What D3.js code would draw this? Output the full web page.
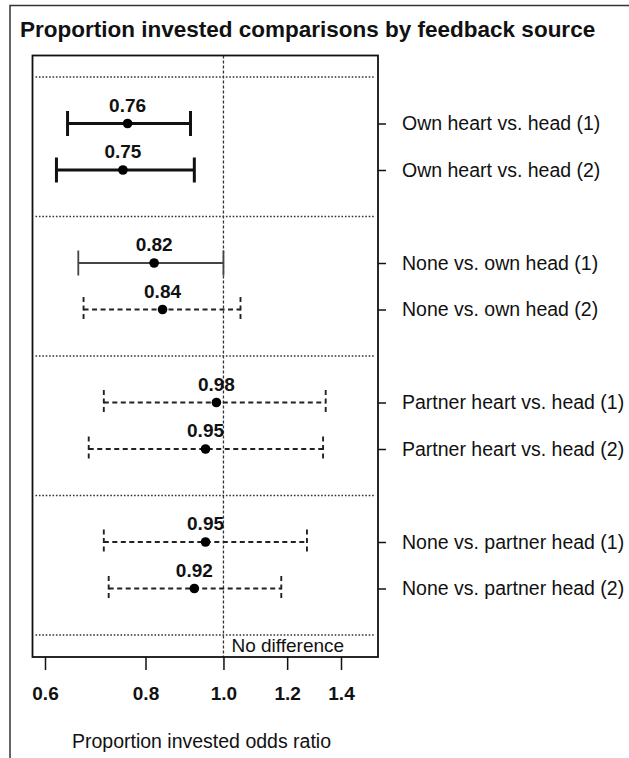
<!DOCTYPE html>
<html lang="en">
<head>
<meta charset="UTF-8">
<title>Proportion invested comparisons by feedback source</title>
<script src="https://cdn.jsdelivr.net/npm/d3@7"></script>
<style>
  body { margin: 0; background: #fff; }
  svg text { font-family: "Liberation Sans", Arial, sans-serif; fill: #111; }
</style>
</head>
<body>
<script>
// comparisons, top to bottom
const labels = [
  "Own heart vs. head (1)", "Own heart vs. head (2)",
  "None vs. own head (1)", "None vs. own head (2)",
  "Partner heart vs. head (1)", "Partner heart vs. head (2)",
  "None vs. partner head (1)", "None vs. partner head (2)"
];
const estimates = [0.76, 0.75, 0.82, 0.84, 0.98, 0.95, 0.95, 0.92];
const lower     = [0.64, 0.62, 0.66, 0.67, 0.71, 0.68, 0.71, 0.72];
const upper     = [0.91, 0.92, 1.00, 1.05, 1.34, 1.33, 1.27, 1.18];
// significance class of each interval
const signif    = ["strong", "strong", "weak", "none", "none", "none", "none", "none"];
const rowPos    = [1, 2, 4, 5, 7, 8, 10, 11];
const groupBreaks = [0, 3, 6, 9, 12];
const xTicks    = [0.6, 0.8, 1.0, 1.2, 1.4];

const width = 629, height = 758;
const box = { left: 32.5, right: 378, top: 55.5, bottom: 657 };

const svg = d3.select("body").append("svg")
    .attr("width", width)
    .attr("height", height);

const x = d3.scaleLog().domain([0.6, 1.4]).range([45, 341]);
const y = d3.scaleLinear().domain([0, 12]).range([77, 635]);

// outer frame
svg.append("path")
    .attr("d", `M10,${height} V5.5 H${width}`)
    .attr("fill", "none")
    .attr("stroke", "#333")
    .attr("stroke-width", 1.5);

svg.append("text")
    .attr("x", 20)
    .attr("y", 37)
    .attr("font-size", "22.5px")
    .attr("font-weight", "bold")
    .text("Proportion invested comparisons by feedback source");

// group separators
svg.selectAll(".sep")
    .data(groupBreaks)
    .enter().append("line")
    .attr("class", "sep")
    .attr("x1", box.left + 3)
    .attr("x2", box.right - 3)
    .attr("y1", d => y(d))
    .attr("y2", d => y(d))
    .attr("stroke", "#333")
    .attr("stroke-width", 1.6)
    .attr("stroke-dasharray", "1.6,1.8");

// no difference line
svg.append("line")
    .attr("x1", x(1)).attr("x2", x(1))
    .attr("y1", box.top).attr("y2", box.bottom)
    .attr("stroke", "#333")
    .attr("stroke-width", 1.3)
    .attr("stroke-dasharray", "3,2");

svg.append("text")
    .attr("x", x(1) + 8)
    .attr("y", 652)
    .attr("font-size", "19px")
    .text("No difference");

const rows = labels.map((d, i) => ({
  label: d, est: estimates[i], lo: lower[i], hi: upper[i], sig: signif[i], pos: rowPos[i]
}));

const lineStyle = {
  strong: { w: 3, dash: null, color: "#111" },
  weak:   { w: 1.8, dash: null, color: "#444" },
  none:   { w: 1.9, dash: "5,3.5", color: "#222" }
};

const g = svg.selectAll(".ci")
    .data(rows)
    .enter().append("g")
    .attr("class", "ci")
    .attr("transform", d => `translate(0,${y(d.pos)})`);

g.append("line")
    .attr("x1", d => x(d.lo))
    .attr("x2", d => x(d.hi))
    .attr("stroke", d => lineStyle[d.sig].color)
    .attr("stroke-width", d => lineStyle[d.sig].w)
    .attr("stroke-dasharray", d => lineStyle[d.sig].dash);

["lo", "hi"].forEach(k => {
  g.append("line")
      .attr("x1", d => x(d[k]))
      .attr("x2", d => x(d[k]))
      .attr("y1", -12.5)
      .attr("y2", 12.5)
      .attr("stroke", d => lineStyle[d.sig].color)
      .attr("stroke-width", d => lineStyle[d.sig].w)
      .attr("stroke-dasharray", d => d.sig === "none" ? "5,3.5" : null);
});

g.append("circle")
    .attr("cx", d => x(d.est))
    .attr("r", 4.8)
    .attr("fill", "#000");

g.append("text")
    .attr("x", d => x(d.est))
    .attr("y", -12)
    .attr("text-anchor", "middle")
    .attr("font-size", "19px")
    .attr("font-weight", "bold")
    .text(d => d.est.toFixed(2));

// plot box
svg.append("rect")
    .attr("x", box.left)
    .attr("y", box.top)
    .attr("width", box.right - box.left)
    .attr("height", box.bottom - box.top)
    .attr("fill", "none")
    .attr("stroke", "#111")
    .attr("stroke-width", 1.8);

// bottom axis
const xAxis = svg.append("g")
    .attr("transform", `translate(0,${box.bottom})`)
    .call(d3.axisBottom(x).tickValues(xTicks).tickFormat(d3.format(".1f")).tickSize(13).tickPadding(16.5));
xAxis.select(".domain").remove();
xAxis.selectAll("line").attr("stroke", "#111").attr("stroke-width", 1.5);
xAxis.selectAll("text")
    .attr("font-size", "19px")
    .attr("font-weight", "bold")
    .attr("font-family", "Liberation Sans, Arial, sans-serif");

// right axis with comparison labels
const yAxis = svg.append("g")
    .attr("transform", `translate(${box.right},0)`)
    .call(d3.axisRight(y).tickValues(rowPos).tickFormat((d, i) => labels[i]).tickSize(8).tickPadding(16));
yAxis.select(".domain").remove();
yAxis.selectAll("line").attr("stroke", "#111").attr("stroke-width", 1.5);
yAxis.selectAll("text")
    .attr("font-size", "19.5px")
    .attr("font-family", "Liberation Sans, Arial, sans-serif");

svg.append("text")
    .attr("x", 201.5)
    .attr("y", 748)
    .attr("text-anchor", "middle")
    .attr("font-size", "19.5px")
    .text("Proportion invested odds ratio");
</script>
</body>
</html>
